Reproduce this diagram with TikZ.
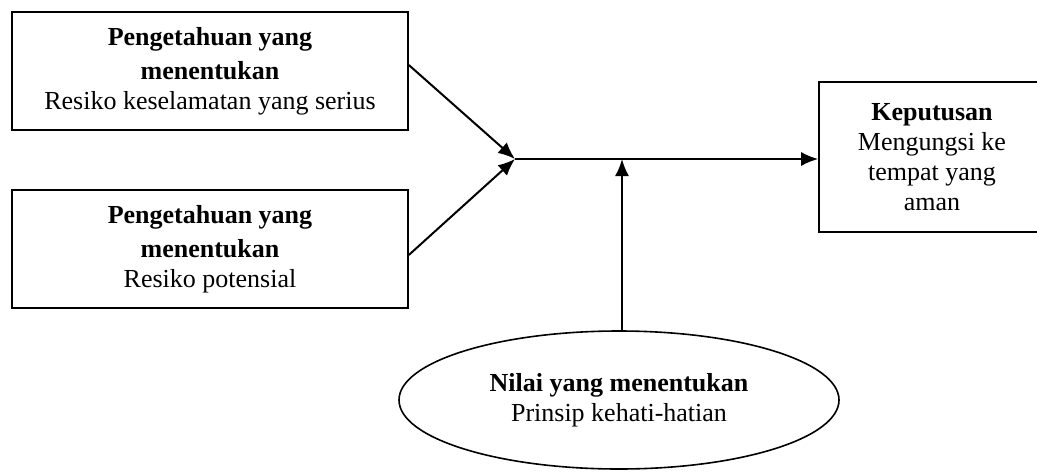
\documentclass[tikz,border=0pt]{standalone}
\usepackage{fontspec}
\setmainfont{Liberation Serif}
\usetikzlibrary{arrows.meta, shapes.geometric, positioning}

\begin{document}
\begin{tikzpicture}[x=0.5pt, y=-0.5pt,
		kotak/.style={draw, line width=0.8pt, align=center, inner sep=0pt, font=\fontsize{13}{15}\selectfont},
		elips/.style={ellipse, draw, line width=0.8pt, align=center, inner sep=0pt, minimum width=220pt, minimum height=69pt, font=\fontsize{13}{15}\selectfont},
		panah/.style={-{Latex[length=8.5pt, width=7pt]}, line width=1pt}]
			% Frame
			\useasboundingbox (0,0) rectangle (1037,471);
			
			% Boxes
			\node[kotak, minimum width=198pt, minimum height=59pt] (pk1) at (210,71)
				{\textbf{Pengetahuan yang}\\[2pt] \textbf{menentukan}\\ Resiko keselamatan yang serius};
			\node[kotak, minimum width=198pt, minimum height=59pt] (pk2) at (210,249)
				{\textbf{Pengetahuan yang}\\[2pt] \textbf{menentukan}\\ Resiko potensial};
			\node[kotak, minimum width=113pt, minimum height=75pt] (kep) at (932,157)
				{\textbf{Keputusan}\\ Mengungsi ke\\ tempat yang\\ aman};
			\node[elips] (nilai) at (619,400)
				{\textbf{Nilai yang menentukan}\\ Prinsip kehati-hatian};
			
			% Junction
			\coordinate (J) at (515,159);
			
			% Arrows
			\draw[panah] ([yshift=3pt]pk1.east) -- (J);
			\draw[panah] ([yshift=-3pt]pk2.east) -- (J);
			\draw[panah] (J) -- (kep.west |- J);
			\draw[panah] (nilai.north -| 622,0) -- (622,159);
		\end{tikzpicture}
\end{document}
